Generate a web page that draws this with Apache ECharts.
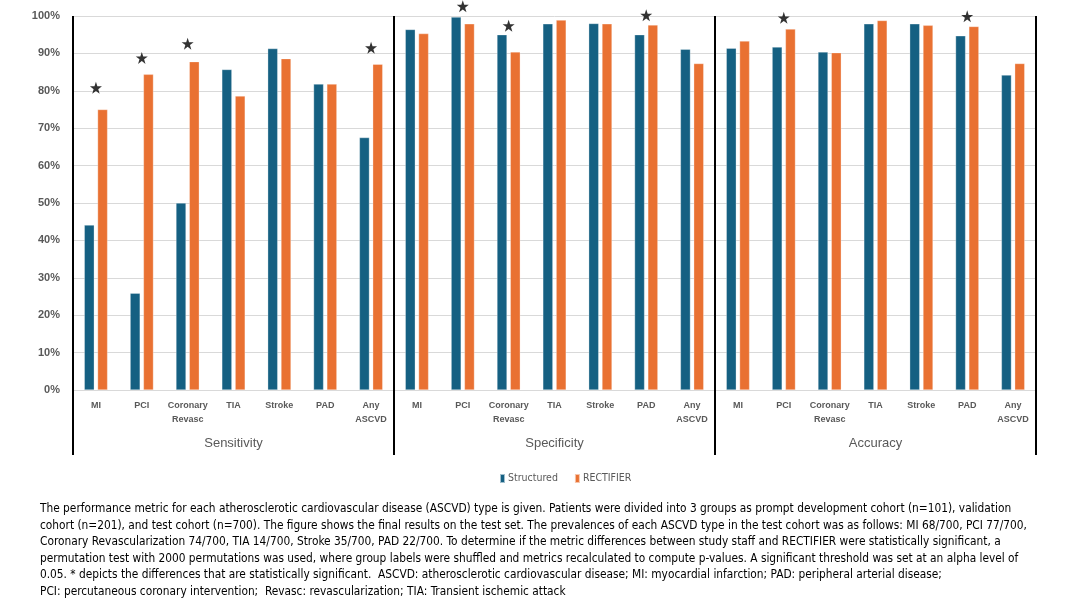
<!DOCTYPE html>
<html>
<head>
<meta charset="utf-8">
<script src="https://cdn.jsdelivr.net/npm/echarts@6/dist/echarts.min.js"></script>
<style>
html,body{margin:0;padding:0;background:#fff;}
#chart{width:1080px;height:608px;}
</style>
</head>
<body>
<div id="chart"></div>
<script>
// ---- data ----
var categories = ['MI', 'PCI', 'Coronary\nRevasc', 'TIA', 'Stroke', 'PAD', 'Any\nASCVD'];
var metrics = ['Sensitivity', 'Specificity', 'Accuracy'];
var yTicks = [0, 10, 20, 30, 40, 50, 60, 70, 80, 90, 100];

var sensStructured = [44.1, 25.9, 50.0, 85.7, 91.3, 81.8, 67.5];
var sensRectifier  = [75.0, 84.4, 87.8, 78.6, 88.6, 81.8, 87.1];
var specStructured = [96.4, 99.7, 95.0, 97.9, 98.0, 95.0, 91.1];
var specRectifier  = [95.3, 97.9, 90.4, 98.9, 97.9, 97.6, 87.3];
var accStructured  = [91.4, 91.7, 90.4, 97.9, 97.9, 94.7, 84.2];
var accRectifier   = [93.3, 96.5, 90.2, 98.8, 97.5, 97.2, 87.3];

// star (significance) marker heights, null = not significant
var sensStars = [80.8, 88.8, 92.6, null, null, null, 91.5];
var specStars = [null, 102.6, 97.4, null, null, 100.2, null];
var accStars  = [null, 99.5, null, null, null, 99.9, null];

var captionLines = [
  'The performance metric for each atherosclerotic cardiovascular disease (ASCVD) type is given. Patients were divided into 3 groups as prompt development cohort (n=101), validation',
  'cohort (n=201), and test cohort (n=700). The figure shows the final results on the test set. The prevalences of each ASCVD type in the test cohort was as follows: MI 68/700, PCI 77/700,',
  'Coronary Revascularization 74/700, TIA 14/700, Stroke 35/700, PAD 22/700. To determine if the metric differences between study staff and RECTIFIER were statistically significant, a',
  'permutation test with 2000 permutations was used, where group labels were shuffled and metrics recalculated to compute p-values. A significant threshold was set at an alpha level of',
  '0.05. * depicts the differences that are statistically significant.  ASCVD: atherosclerotic cardiovascular disease; MI: myocardial infarction; PAD: peripheral arterial disease;',
  'PCI: percutaneous coronary intervention;  Revasc: revascularization; TIA: Transient ischemic attack'
];

// ---- build ----
var xCats = [], structured = [], rectifier = [], stars = [];
for (var m = 0; m < metrics.length; m++) {
  for (var i = 0; i < categories.length; i++) xCats.push(categories[i]);
}
structured = sensStructured.concat(specStructured, accStructured);
rectifier = sensRectifier.concat(specRectifier, accRectifier);
stars = sensStars.concat(specStars, accStars);

var BLUE = '#156082', ORANGE = '#E97132', GRAY = '#595959';
var starPath = 'path://M50,0 L61.8,35.4 L99,35.4 L69,57.3 L80.3,93.5 L50,71.6 L19.7,93.5 L31,57.3 L1,35.4 L38.2,35.4 Z';

var chart = echarts.init(document.getElementById('chart'), null, {renderer: 'canvas'});
chart.setOption({
  animation: false,
  backgroundColor: '#fff',
  grid: {left: 73, right: 44, top: 16, bottom: 218, containLabel: false},
  legend: {
    data: ['Structured', 'RECTIFIER'],
    left: 494, top: 468,
    icon: 'rect', itemWidth: 5, itemHeight: 9, itemGap: 16,
    textStyle: {color: GRAY, fontSize: 10.5, fontFamily: "'Liberation Sans Narrow', 'DejaVu Sans Condensed', 'Liberation Sans', sans-serif", padding: [0, 0, 0, -2]}
  },
  xAxis: [{
    type: 'category',
    data: xCats,
    position: 'bottom',
    axisLine: {show: true, lineStyle: {color: '#d9d9d9', width: 1}},
    axisTick: {show: false},
    axisLabel: {interval: 0, color: GRAY, fontSize: 9, fontWeight: 'bold', margin: 9, lineHeight: 14, fontFamily: "'Liberation Sans', sans-serif"},
    splitLine: {show: false}
  }, {
    type: 'category',
    data: metrics,
    position: 'bottom',
    axisLine: {show: false},
    axisTick: {show: true, length: 65, lineStyle: {color: '#000', width: 2}},
    axisLabel: {color: GRAY, fontSize: 13, margin: 47, fontFamily: "'Liberation Sans', sans-serif"},
    splitLine: {show: true, lineStyle: {color: '#000', width: 2}}
  }],
  yAxis: {
    type: 'value',
    min: yTicks[0], max: yTicks[yTicks.length - 1], interval: 10,
    axisLine: {show: false},
    axisTick: {show: false},
    axisLabel: {formatter: '{value}%', color: GRAY, fontSize: 11, fontWeight: 'bold', margin: 13, fontFamily: "'Liberation Sans', sans-serif"},
    splitLine: {lineStyle: {color: '#d9d9d9', width: 1}}
  },
  series: [{
    name: 'Structured', type: 'bar', xAxisIndex: 0, data: structured,
    barWidth: 10, barGap: '33%',
    itemStyle: {color: BLUE, borderColor: 'rgba(255,255,255,0.6)', borderWidth: 0.5}
  }, {
    name: 'RECTIFIER', type: 'bar', xAxisIndex: 0, data: rectifier,
    barWidth: 10, barGap: '33%',
    itemStyle: {color: ORANGE, borderColor: 'rgba(255,255,255,0.6)', borderWidth: 0.5}
  }, {
    name: 'sig', type: 'scatter', xAxisIndex: 0, data: stars,
    symbol: starPath, symbolSize: 12, clip: false,
    itemStyle: {color: '#000'}, silent: true, z: 5
  }],
  graphic: [{
    type: 'text', left: 40, top: 501,
    style: {
      text: captionLines.join('\n'),
      fontSize: 11.8, lineHeight: 16.5,
      fontFamily: "'Liberation Sans Narrow', 'DejaVu Sans Condensed', 'Liberation Sans', sans-serif",
      fill: '#000'
    }
  }]
});
</script>
</body>
</html>
